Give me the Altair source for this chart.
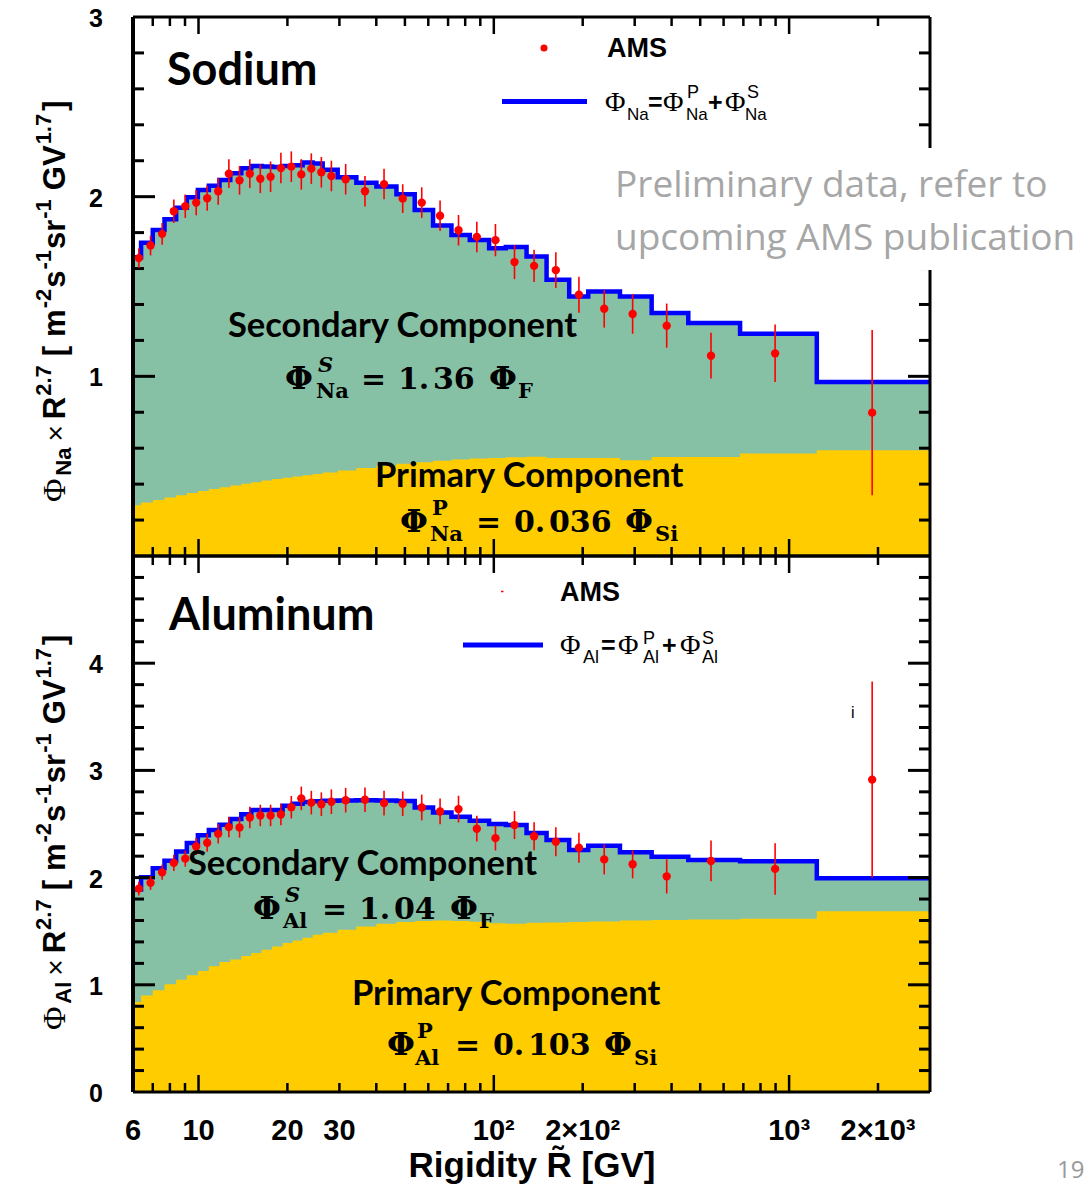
import altair as alt
import pandas as pd

# ---------------------------------------------------------------- data ----
# model histogram bin edges in rigidity [GV] (shared by both panels)
BIN_EDGES = [6.0, 6.39, 7.0, 7.67, 8.4, 9.13, 9.95, 10.84, 11.78, 12.81, 13.96,
             15.09, 16.35, 17.75, 19.27, 20.83, 22.52, 24.35, 26.33, 29.6, 34.24,
             40.03, 46.8, 53.97, 62.27, 71.88, 82.92, 96.4, 109.8, 129.1, 150.9,
             180.0, 208.8, 267.4, 342.4, 455.6, 682.3, 1241.0, 3000.0]

# sodium: total model (primary + secondary) and primary part, per bin
NA_MODEL_TOTAL = [1.663, 1.744, 1.815, 1.874, 1.939, 1.997, 2.037, 2.061, 2.093, 2.13,
                  2.158, 2.171, 2.168, 2.165, 2.171, 2.175, 2.19, 2.185, 2.15, 2.108,
                  2.078, 2.056, 2.013, 1.926, 1.839, 1.787, 1.759, 1.713, 1.72, 1.667,
                  1.537, 1.444, 1.472, 1.444, 1.352, 1.297, 1.237, 0.969]
NA_MODEL_PRIMARY = [0.283, 0.298, 0.312, 0.325, 0.338, 0.35, 0.362, 0.373, 0.383, 0.393,
                    0.402, 0.411, 0.42, 0.428, 0.436, 0.443, 0.45, 0.457, 0.465, 0.476,
                    0.49, 0.503, 0.513, 0.522, 0.53, 0.537, 0.542, 0.546, 0.549, 0.552,
                    0.546, 0.546, 0.546, 0.533, 0.551, 0.551, 0.57, 0.589]

# aluminum: total model and primary part, per bin
AL_MODEL_TOTAL = [1.89, 2.003, 2.088, 2.158, 2.243, 2.322, 2.395, 2.445, 2.493, 2.546,
                  2.59, 2.63, 2.63, 2.63, 2.67, 2.69, 2.705, 2.712, 2.716, 2.72,
                  2.722, 2.72, 2.714, 2.654, 2.608, 2.567, 2.53, 2.5, 2.49, 2.415,
                  2.35, 2.257, 2.298, 2.236, 2.195, 2.164, 2.152, 1.994]
AL_MODEL_PRIMARY = [0.84, 0.9, 0.95, 1.005, 1.048, 1.088, 1.128, 1.172, 1.212, 1.237,
                    1.268, 1.296, 1.327, 1.358, 1.389, 1.414, 1.439, 1.467, 1.486, 1.513,
                    1.544, 1.569, 1.585, 1.594, 1.6, 1.595, 1.588, 1.575, 1.569, 1.578,
                    1.58, 1.585, 1.59, 1.6, 1.605, 1.61, 1.615, 1.687]

# AMS measurements (same rigidity points for both nuclei)
AMS_RIGIDITY = [6.28, 6.88, 7.53, 8.25, 9.02, 9.82, 10.7, 11.66, 12.67, 13.77, 14.92,
                16.19, 17.54, 19.01, 20.62, 22.29, 24.1, 26.06, 28.18, 31.5, 36.62,
                42.49, 49.15, 57.01, 65.77, 75.94, 87.59, 101.3, 117.5, 136.9, 162.2,
                194.2, 236.5, 295.2, 385.0, 543.9, 896.6, 1911.0]
NA_FLUX = [1.658, 1.728, 1.793, 1.919, 1.947, 1.967, 1.991, 2.03, 2.128, 2.091, 2.128,
           2.1, 2.111, 2.159, 2.167, 2.124, 2.156, 2.136, 2.115, 2.097, 2.03, 2.07,
           1.989, 1.967, 1.894, 1.813, 1.776, 1.758, 1.636, 1.615, 1.591, 1.454, 1.376,
           1.347, 1.282, 1.115, 1.128, 0.798]
NA_ERR = [0.055, 0.055, 0.06, 0.065, 0.065, 0.07, 0.07, 0.075, 0.08, 0.08, 0.08, 0.08,
          0.085, 0.085, 0.085, 0.085, 0.085, 0.085, 0.085, 0.085, 0.085, 0.085, 0.08,
          0.085, 0.085, 0.085, 0.085, 0.09, 0.095, 0.09, 0.1, 0.1, 0.105, 0.11, 0.123,
          0.127, 0.16, 0.46]
AL_FLUX = [1.897, 1.951, 2.049, 2.137, 2.177, 2.29, 2.325, 2.408, 2.471, 2.468, 2.561,
           2.58, 2.58, 2.589, 2.657, 2.739, 2.7, 2.685, 2.708, 2.722, 2.726, 2.695,
           2.689, 2.654, 2.617, 2.639, 2.456, 2.368, 2.49, 2.386, 2.335, 2.279, 2.17,
           2.124, 2.012, 2.155, 2.081, 2.914]
AL_ERR = [0.065, 0.065, 0.07, 0.075, 0.075, 0.08, 0.085, 0.09, 0.095, 0.095, 0.1, 0.1,
          0.1, 0.1, 0.105, 0.11, 0.11, 0.11, 0.115, 0.115, 0.115, 0.115, 0.115, 0.12,
          0.12, 0.125, 0.12, 0.115, 0.13, 0.13, 0.135, 0.14, 0.14, 0.13, 0.16, 0.19,
          0.24, 0.915]

# axis ticks and labels
X_MAJOR_TICKS = [10, 100, 1000]
X_MINOR_TICKS = [7, 8, 9, 20, 30, 40, 50, 60, 70, 80, 90,
                 200, 300, 400, 500, 600, 700, 800, 900, 2000]
X_LABEL_VALUES = [6, 10, 20, 30, 100, 200, 1000, 2000]
X_LABEL_TEXT = ["6", "10", "20", "30", "10²", "2×10²", "10³", "2×10³"]
NA_Y_LABELS = [1, 2, 3]
AL_Y_LABELS = [0, 1, 2, 3, 4]

# ------------------------------------------------------------- layout ----
LEFT = 133          # page x of the plot frame
TOP_NA = 17         # page y of the sodium frame
H_NA = 539
TOP_AL = TOP_NA + H_NA
H_AL = 536
PLOT_W = 797

GREEN = "#86c1a6"
YELLOW = "#ffcc00"
BLUE = "#0000ff"
RED = "#ff0000"
GREY = "#a6a6a6"

SANS = "Liberation Sans"
SERIF = "Liberation Serif"
MATH = "DejaVu Serif"
CAL = "Lato"

ONE = pd.DataFrame({"k": [0]})


def label(text, x, y, top, size, font=SANS, weight="bold", color="black",
          style=None, angle=None, align="left", baseline="alphabetic"):
    """A single text item placed at page coordinates (x, y)."""
    kw = dict(text=text, font=font, fontSize=size, fontWeight=weight,
              color=color, align=align, baseline=baseline)
    if style:
        kw["fontStyle"] = style
    if angle is not None:
        kw["angle"] = angle
    return alt.Chart(ONE).mark_text(**kw).encode(
        x=alt.value(x - LEFT), y=alt.value(y - top))


def hline(x1, x2, y, top, color, width):
    return alt.Chart(ONE).mark_rule(color=color, strokeWidth=width).encode(
        x=alt.value(x1 - LEFT), x2=alt.value(x2 - LEFT), y=alt.value(y - top))


# advance widths (em) of the bold sans face, for laying out the axis title
ADV = {"N": .722, "a": .556, "A": .722, "l": .278, "R": .722, "2": .556,
       ".": .278, "7": .556, "[": .333, "m": .889, "-": .333, "s": .556, "1": .556,
       "r": .389, "G": .778, "V": .667, "]": .333, "×": .584, "Φ": .76}


def y_title(element, start_y, top):
    """Vertical axis title  Φ_X × R^2.7 [ m^-2 s^-1 sr^-1 GV^1.7 ]  built piecewise."""
    main, small = 31, 22
    # (text, font, size, weight, baseline shift, gap after)
    pieces = [("Φ", SERIF, 32, "normal", 0, 2), (element, SANS, small, "bold", 6, 6),
              ("×", SANS, 28, "normal", 0, 6), ("R", SANS, main, "bold", 0, 1),
              ("2.7", SANS, small, "bold", -14, 9), ("[", SANS, main, "bold", 0, 9),
              ("m", SANS, main, "bold", 0, 1), ("-2", SANS, small, "bold", -14, 1),
              ("s", SANS, main, "bold", 0, 1), ("-1", SANS, small, "bold", -14, 1),
              ("sr", SANS, main, "bold", 0, 1), ("-1", SANS, small, "bold", -14, 9),
              ("GV", SANS, main, "bold", 0, 1), ("1.7", SANS, small, "bold", -14, 3),
              ("]", SANS, main, "bold", 0, 0)]
    base_x = 65
    y = start_y
    out = []
    for text, font, size, weight, shift, gap in pieces:
        out.append(label(text, base_x + shift, y, top, size, font, weight, angle=270))
        y -= sum(ADV.get(c, .6) for c in text) * size + gap
    return out


def panel(total, primary, flux, err, ymax, height, top, y_labels, extras):
    xs = alt.Scale(type="log", domain=[6, 3000])
    ys = alt.Scale(domain=[0, ymax], nice=False, zero=False)

    def X(f):
        return alt.X(f, type="quantitative", scale=xs, axis=None)

    def Y(f):
        return alt.Y(f, type="quantitative", scale=ys, axis=None)

    hist = pd.DataFrame({"R": BIN_EDGES, "total": total + total[-1:],
                         "primary": primary + primary[-1:]})
    pts = pd.DataFrame({"R": AMS_RIGIDITY, "flux": flux, "err": err})

    layers = [
        alt.Chart(hist).mark_area(interpolate="step-after", color=GREEN, opacity=1)
        .encode(x=X("R"), y=Y("total")),
        alt.Chart(hist).mark_area(interpolate="step-after", color=YELLOW, opacity=1)
        .encode(x=X("R"), y=Y("primary")),
        alt.Chart(hist).mark_line(interpolate="step-after", color=BLUE, strokeWidth=4.5)
        .encode(x=X("R"), y=Y("total")),
    ]

    # ticks drawn inside the frame on all four sides
    xmaj = pd.DataFrame({"R": X_MAJOR_TICKS})
    xmin = pd.DataFrame({"R": X_MINOR_TICKS})
    for df, ln in ((xmaj, 17), (xmin, 9)):
        base = alt.Chart(df).mark_rule(color="black", strokeWidth=2.5)
        layers.append(base.encode(x=X("R"), y=alt.value(0), y2=alt.value(ln)))
        layers.append(base.encode(x=X("R"), y=alt.value(height), y2=alt.value(height - ln)))
    ymaj = pd.DataFrame({"v": list(range(1, ymax))})
    ymin = pd.DataFrame({"v": [i / 5 for i in range(1, 5 * ymax) if i % 5]})
    for df, ln in ((ymaj, 22), (ymin, 11)):
        base = alt.Chart(df).mark_rule(color="black", strokeWidth=3)
        layers.append(base.encode(y=Y("v"), x=alt.value(0), x2=alt.value(ln)))
        layers.append(base.encode(y=Y("v"), x=alt.value(PLOT_W), x2=alt.value(PLOT_W - ln)))

    # AMS points with error bars
    layers.append(
        alt.Chart(pts).transform_calculate(lo="datum.flux - datum.err",
                                           hi="datum.flux + datum.err")
        .mark_rule(color=RED, strokeWidth=1.6)
        .encode(x=X("R"), y=Y("lo"), y2=alt.Y2("hi:Q")))
    layers.append(
        alt.Chart(pts).mark_circle(color=RED, opacity=1, size=70)
        .encode(x=X("R"), y=Y("flux")))

    # frame
    for enc in (dict(x=alt.value(0), x2=alt.value(PLOT_W), y=alt.value(0)),
                dict(x=alt.value(0), x2=alt.value(PLOT_W), y=alt.value(height)),
                dict(x=alt.value(PLOT_W), y=alt.value(0), y2=alt.value(height))):
        layers.append(alt.Chart(ONE).mark_rule(color="black", strokeWidth=3).encode(**enc))
    layers.append(alt.Chart(ONE).mark_rule(color="black", strokeWidth=4).encode(
        x=alt.value(0), y=alt.value(0), y2=alt.value(height)))

    # y tick labels
    layers.append(
        alt.Chart(pd.DataFrame({"v": y_labels, "t": [str(v) for v in y_labels]}))
        .mark_text(font=SANS, fontWeight="bold", fontSize=25, align="right",
                   baseline="alphabetic", dy=10, color="black")
        .encode(y=Y("v"), x=alt.value(-30), text="t:N"))
    layers += extras

    # white pin keeping the page origin at the top-left corner
    pin_y = -TOP_NA if top == TOP_NA else 0
    layers.append(alt.Chart(ONE).mark_rect(color="white", opacity=1).encode(
        x=alt.value(-LEFT), x2=alt.value(-LEFT + 1),
        y=alt.value(pin_y), y2=alt.value(pin_y + 1)))

    return alt.layer(*layers).properties(width=PLOT_W, height=height)


# ---------------------------------------------------------- sodium panel ----
t = TOP_NA
na_extras = y_title("Na", 502, t) + [
    label("Sodium", 167, 85, t, 45, CAL),
    # legend
    alt.Chart(ONE).mark_circle(color=RED, opacity=1, size=50).encode(
        x=alt.value(544 - LEFT), y=alt.value(48 - t)),
    label("AMS", 607, 57, t, 27),
    hline(502, 587, 101.5, t, BLUE, 5),
    label("Φ", 605, 111, t, 28, SERIF, "normal"),
    label("Na", 627, 120, t, 17, SANS, "normal"),
    label("=", 648, 111, t, 25),
    label("Φ", 663, 111, t, 28, SERIF, "normal"),
    label("P", 687, 98, t, 18, SANS, "normal"),
    label("Na", 686, 120, t, 17, SANS, "normal"),
    label("+", 708, 111, t, 25),
    label("Φ", 725, 111, t, 28, SERIF, "normal"),
    label("S", 747, 98, t, 18, SANS, "normal"),
    label("Na", 745, 120, t, 17, SANS, "normal"),
    # component annotations
    label("Secondary Component", 228, 337, t, 34.5, CAL),
    label("Φ", 285, 389, t, 32, MATH),
    label("S", 318, 372, t, 21, MATH, style="italic"),
    label("Na", 316, 398, t, 21, MATH),
    label("=", 361, 389, t, 30, MATH),
    label("1.", 398, 389, t, 30, MATH),
    label("36", 433, 389, t, 30, MATH),
    label("Φ", 489, 389, t, 32, MATH),
    label("F", 518, 398, t, 21, MATH),
    label("Primary Component", 375, 487, t, 34.5, CAL),
    label("Φ", 400, 532, t, 32, MATH),
    label("P", 432, 515, t, 21, MATH),
    label("Na", 430, 541, t, 21, MATH),
    label("=", 476, 532, t, 30, MATH),
    label("0.", 514, 532, t, 30, MATH),
    label("036", 549, 532, t, 30, MATH),
    label("Φ", 625, 532, t, 32, MATH),
    label("Si", 655, 541, t, 21, MATH),
    # note box
    alt.Chart(ONE).mark_rect(color="white", opacity=1).encode(
        x=alt.value(607 - LEFT), x2=alt.value(1089 - LEFT),
        y=alt.value(148 - t), y2=alt.value(270 - t)),
    label("Preliminary data, refer to", 615, 197, t, 37, "Open Sans", "normal", GREY),
    label("upcoming AMS publication", 615, 250, t, 37, "Open Sans", "normal", GREY),
]

sodium = panel(NA_MODEL_TOTAL, NA_MODEL_PRIMARY, NA_FLUX, NA_ERR, 3, H_NA, TOP_NA,
               NA_Y_LABELS, na_extras)

# -------------------------------------------------------- aluminum panel ----
t = TOP_AL
xs_al = alt.Scale(type="log", domain=[6, 3000])
al_extras = y_title("Al", 1030, t) + [
    label("Aluminum", 169, 630, t, 45, CAL),
    hline(501, 503.5, 591.5, t, RED, 1.5),
    label("AMS", 560, 601, t, 27),
    hline(463, 543, 645, t, BLUE, 5),
    label("Φ", 560, 654, t, 28, SERIF, "normal"),
    label("Al", 583, 663, t, 18, SANS, "normal"),
    label("=", 601, 654, t, 25),
    label("Φ", 618, 654, t, 28, SERIF, "normal"),
    label("P", 643, 644, t, 18, SANS, "normal"),
    label("Al", 643, 663, t, 18, SANS, "normal"),
    label("+", 662, 654, t, 25),
    label("Φ", 680, 654, t, 28, SERIF, "normal"),
    label("S", 702, 644, t, 18, SANS, "normal"),
    label("Al", 702, 663, t, 18, SANS, "normal"),
    label("i", 851, 718, t, 16, SANS, "normal"),
    label("Secondary Component", 188, 875, t, 34.5, CAL),
    label("Φ", 253, 919, t, 32, MATH),
    label("S", 285, 902, t, 21, MATH, style="italic"),
    label("Al", 283, 928, t, 21, MATH),
    label("=", 322, 919, t, 30, MATH),
    label("1.", 359, 919, t, 30, MATH),
    label("04", 394, 919, t, 30, MATH),
    label("Φ", 450, 919, t, 32, MATH),
    label("F", 479, 928, t, 21, MATH),
    label("Primary Component", 352, 1005, t, 34.5, CAL),
    label("Φ", 387, 1055, t, 32, MATH),
    label("P", 417, 1038, t, 21, MATH),
    label("Al", 415, 1065, t, 21, MATH),
    label("=", 455, 1055, t, 30, MATH),
    label("0.", 493, 1055, t, 30, MATH),
    label("103", 528, 1055, t, 30, MATH),
    label("Φ", 604, 1055, t, 32, MATH),
    label("Si", 634, 1065, t, 21, MATH),
    # x tick labels and axis title
    alt.Chart(pd.DataFrame({"R": X_LABEL_VALUES, "t": X_LABEL_TEXT}))
    .mark_text(font=SANS, fontWeight="bold", fontSize=29, align="center",
               baseline="alphabetic", color="black")
    .encode(x=alt.X("R:Q", scale=xs_al, axis=None), y=alt.value(H_AL + 48), text="t:N"),
    label("Rigidity R\u0303 [GV]", 532, 1177, t, 35, align="center"),
    label("19", 1057, 1178, t, 24, "Open Sans", "normal", "#999999"),
]

aluminum = panel(AL_MODEL_TOTAL, AL_MODEL_PRIMARY, AL_FLUX, AL_ERR, 5, H_AL, TOP_AL,
                 AL_Y_LABELS, al_extras)

chart = (
    alt.vconcat(sodium, aluminum, spacing=0, bounds="flush")
    .properties(padding=0, background="white")
    .configure_view(stroke=None)
)

chart.save("out.html", embed_options={"renderer": "svg", "actions": False})
